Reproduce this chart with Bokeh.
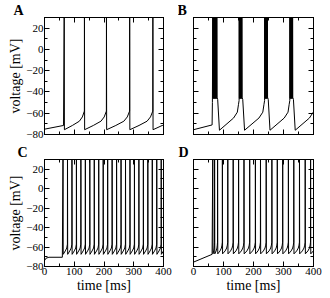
from bokeh.plotting import figure
from bokeh.layouts import gridplot
from bokeh.models import SingleIntervalTicker, LinearAxis, Range1d, CustomJSTickFormatter
from bokeh.embed import file_html
from bokeh.resources import INLINE

FONT = "Liberation Serif"
T_END = 400
PEAK = 40

# ---------------- Panel A: regular spiking ----------------
a_pre_t = [0, 64]
a_pre_v = [-75.0, -71.5]
a_spikes = [66, 134, 208, 286, 364]
a_isi_frac = [0.0, 0.4, 0.75, 0.9, 1.0]
a_isi_v = [-75.5, -71.5, -67.5, -63.5, -58.0]

# ---------------- Panel B: bursting ----------------
b_pre_t = [0, 62, 63]
b_pre_v = [-75.5, -71.0, -50.0]
b_bursts = [64, 152, 237, 321]
b_burst_n = [10, 7, 7, 7]
b_intra_isi = 1.5
b_burst_base = -46.0
b_isi_frac = [0.0, 0.03, 0.11, 0.75, 0.92, 0.97, 1.0]
b_isi_v = [-45.0, -47.0, -76.0, -64.5, -59.0, -52.0, -48.0]

# ---------------- Panel C: fast tonic spiking ----------------
c_pre_t = [0, 5, 15, 60]
c_pre_v = [-74.0, -71.5, -70.5, -70.5]
c_spikes = [62, 77, 92, 107, 122, 137, 152, 167, 182, 197, 212, 227,
            242, 257, 272, 287, 302, 317, 332, 347, 362, 377, 392]
c_isi_frac = [0.0, 0.5, 0.85, 1.0]
c_isi_v = [-67.5, -64.0, -61.0, -57.0]

# ---------------- Panel D: tonic spiking with initial doublet ----------------
d_pre_t = [0, 62]
d_pre_v = [-75.5, -67.5]
d_spikes = [64, 70, 80, 96, 114, 132, 150, 168, 187, 206, 223, 242,
            261, 279, 297, 316, 334, 353, 372, 390]
d_isi_frac = [0.0, 0.5, 0.8, 0.93, 1.0]
d_isi_v = [-67.0, -64.0, -61.0, -58.0, -55.0]

# panel letters
letters = ["A", "B", "C", "D"]


def build_trace(pre_t, pre_v, starts, counts, intra, base, isi_frac, isi_v):
    t = list(pre_t)
    v = list(pre_v)
    ends = [s + (n - 1) * intra + 0.9 for s, n in zip(starts, counts)]
    for k, (s, n) in enumerate(zip(starts, counts)):
        for j in range(n):
            ts = s + j * intra
            if j > 0:
                t.append(ts)
                v.append(base)
            t.append(ts + 0.3)
            v.append(PEAK)
            if j < n - 1:
                t.append(ts + 0.9)
                v.append(base)
        e = ends[k]
        if k + 1 < len(starts):
            gap = starts[k + 1] - e
        else:
            gap = starts[k] - ends[k - 1]
        for f, vv in zip(isi_frac, isi_v):
            tt = e + f * gap
            if k + 1 == len(starts) and tt > T_END:
                break
            t.append(tt)
            v.append(vv)
    if t[-1] < T_END:
        t.append(T_END)
        v.append(v[-1])
    return t, v


def style_axis(ax, show_labels, label=None):
    ax.axis_line_color = "black"
    ax.major_tick_in = 5
    ax.major_tick_out = 0
    ax.minor_tick_in = 3
    ax.minor_tick_out = 0
    ax.major_tick_line_color = "black"
    ax.minor_tick_line_color = "black"
    ax.major_label_text_font = FONT
    ax.major_label_text_color = "black"
    if show_labels:
        ax.major_label_text_font_size = "11px"
        ax.major_label_standoff = 1
    else:
        ax.formatter = CustomJSTickFormatter(code="return ''")
        ax.major_label_text_font_size = "1px"
        ax.major_label_standoff = 0
    if label:
        ax.axis_label = label
        ax.axis_label_text_font = FONT
        ax.axis_label_text_font_size = "14px"
        ax.axis_label_text_font_style = "normal"
        ax.axis_label_text_color = "black"
        ax.axis_label_standoff = 0


def make_fig(w, h, bl, br, bt, bb, xlab, ylab, idx, letter_offset, t, v):
    p = figure(width=w, height=h, x_range=Range1d(0, 400), y_range=Range1d(-80, 30),
               output_backend="svg", toolbar_location=None, tools="",
               x_axis_location=None, y_axis_location=None,
               min_border_left=bl, min_border_right=br,
               min_border_top=bt, min_border_bottom=bb,
               title=letters[idx])
    p.title.align = "left"
    p.title.offset = letter_offset
    p.title.standoff = 0
    p.title.text_font = FONT
    p.title.text_font_style = "bold"
    p.title.text_font_size = "14px"
    p.title.text_color = "black"
    p.xgrid.visible = False
    p.ygrid.visible = False
    p.outline_line_color = "black"
    p.outline_line_width = 1
    p.background_fill_color = "white"
    p.border_fill_color = "white"
    for loc, is_x in (("below", True), ("above", True), ("left", False), ("right", False)):
        if is_x:
            ax = LinearAxis(ticker=SingleIntervalTicker(interval=100, num_minor_ticks=2))
            show = xlab and loc == "below"
            style_axis(ax, show, "time [ms]" if show else None)
        else:
            ax = LinearAxis(ticker=SingleIntervalTicker(interval=20, num_minor_ticks=2))
            show = ylab and loc == "left"
            style_axis(ax, show, "voltage [mV]" if show else None)
        p.add_layout(ax, loc)
    p.line(t, v, line_color="black", line_width=1)
    return p


ta, va = build_trace(a_pre_t, a_pre_v, a_spikes, [1] * len(a_spikes), 0, a_isi_v[0], a_isi_frac, a_isi_v)
tb, vb = build_trace(b_pre_t, b_pre_v, b_bursts, b_burst_n, b_intra_isi, b_burst_base, b_isi_frac, b_isi_v)
tc, vc = build_trace(c_pre_t, c_pre_v, c_spikes, [1] * len(c_spikes), 0, c_isi_v[0], c_isi_frac, c_isi_v)
td, vd = build_trace(d_pre_t, d_pre_v, d_spikes, [1] * len(d_spikes), 0, d_isi_v[0], d_isi_frac, d_isi_v)

pA = make_fig(178, 142, 44, 15, 14, 8, False, True, 0, -31, ta, va)
pB = make_fig(145, 142, 15, 10, 14, 8, False, False, 1, -16, tb, vb)
pC = make_fig(178, 154, 44, 15, 10, 30, True, True, 2, -27, tc, vc)
pD = make_fig(145, 154, 15, 10, 10, 30, True, False, 3, -15, td, vd)

grid = gridplot([[pA, pB], [pC, pD]], toolbar_location=None)
open("out.html", "w").write(file_html(grid, INLINE))
